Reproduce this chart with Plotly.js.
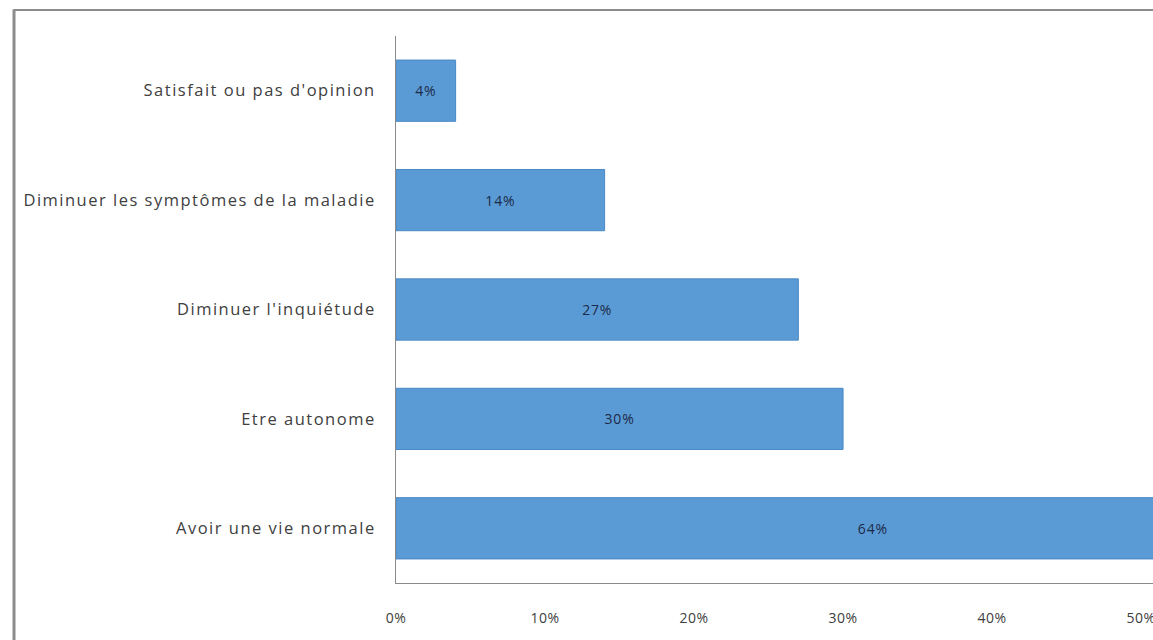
<!DOCTYPE html>
<html>
<head>
<meta charset="utf-8">
<script src="https://cdn.plot.ly/plotly-3.0.1.min.js"></script>
<style>
html,body{margin:0;padding:0;background:#fff;overflow:hidden;}
#chart{width:1153px;height:640px;}
#chart .ytick text{letter-spacing:1.5px;}
#chart .xtick text{letter-spacing:0.5px;}
#chart text.bartext{letter-spacing:0.8px;}
</style>
</head>
<body>
<div id="chart"></div>
<script>
// Data (bottom to top)
const categories = [
  "Avoir une vie normale",
  "Etre autonome",
  "Diminuer l'inquiétude",
  "Diminuer les symptômes de la maladie",
  "Satisfait ou pas d'opinion"
];
const values = [0.64, 0.30, 0.27, 0.14, 0.04];
const valueLabels = ["64%", "30%", "27%", "14%", "4%"];
const tickValues = [0, 0.1, 0.2, 0.3, 0.4, 0.5];
const tickLabels = ["0%", "10%", "20%", "30%", "40%", "50%"];

const fontFamily = "'Open Sans', 'Liberation Sans', sans-serif";

const trace = {
  type: "bar",
  orientation: "h",
  y: categories,
  x: values,
  text: valueLabels,
  textposition: "inside",
  insidetextanchor: "middle",
  textangle: 0,
  constraintext: "none",
  textfont: {family: fontFamily, size: 14, color: "#1b2a48"},
  marker: {color: "#5b9bd5", line: {color: "#4a88c6", width: 1}},
  width: 0.56,
  hoverinfo: "none",
  cliponaxis: true
};

const layout = {
  width: 1153,
  height: 640,
  margin: {l: 396, r: 0, t: 36, b: 57, pad: 0},
  paper_bgcolor: "#ffffff",
  plot_bgcolor: "#ffffff",
  showlegend: false,
  font: {family: fontFamily, size: 14, color: "#404040"},
  xaxis: {
    range: [0, 0.508],
    tickvals: tickValues,
    ticktext: tickLabels,
    showgrid: false,
    zeroline: false,
    showline: true,
    linecolor: "#8a8a8a",
    linewidth: 1,
    ticks: "",
    ticklabelstandoff: 22,
    ticklabeloverflow: "allow",
    tickfont: {family: fontFamily, size: 14, color: "#404040"},
    fixedrange: true
  },
  yaxis: {
    type: "category",
    range: [-0.5, 4.5],
    showgrid: false,
    zeroline: false,
    showline: true,
    linecolor: "#8a8a8a",
    linewidth: 1,
    ticks: "",
    ticklabelstandoff: 16,
    tickfont: {family: fontFamily, size: 16.5, color: "#404040"},
    fixedrange: true
  },
  shapes: [
    {type: "line", xref: "paper", yref: "paper", x0: -0.5046, x1: 1.01, y0: 1.0475, y1: 1.0475,
     line: {color: "#8c8c8c", width: 2}},
    {type: "line", xref: "paper", yref: "paper", x0: -0.5046, x1: -0.5046, y0: 1.049, y1: -0.12,
     line: {color: "#8c8c8c", width: 3}}
  ]
};

Plotly.newPlot("chart", [trace], layout, {displayModeBar: false, staticPlot: true});
</script>
</body>
</html>
